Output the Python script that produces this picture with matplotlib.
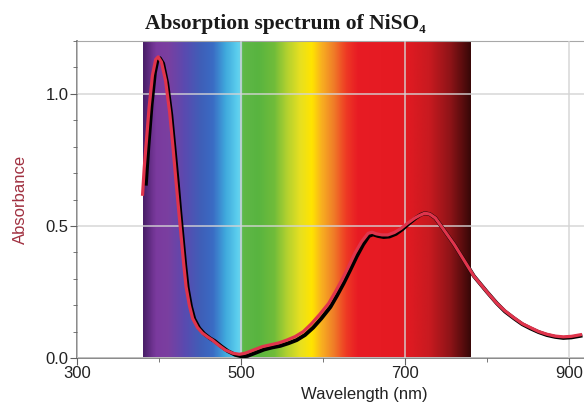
import numpy as np
import matplotlib
matplotlib.use("Agg")
import matplotlib.pyplot as plt
from matplotlib.colors import LinearSegmentedColormap, to_rgb
from matplotlib.ticker import FixedLocator, MultipleLocator, FormatStrFormatter

# Red trace
red_nm = [380, 382, 388, 392, 396, 399, 403, 408, 413, 417, 421, 424, 427, 430, 433,
          437, 441, 447, 453, 460, 465, 473, 481, 490, 498, 505, 515, 526, 536, 546,
          556, 566, 576, 586, 596, 607, 615, 623, 631, 639, 647, 655, 660, 665, 672,
          679, 687, 695, 703, 712, 718, 724, 730, 737, 744, 752, 760, 768, 776, 784,
          792, 800, 812, 822, 833, 843, 853, 863, 873, 883, 893, 903, 914]
red_abs = [0.62, 0.72, 0.95, 1.07, 1.13, 1.14, 1.12, 1.05, 0.93, 0.80, 0.66, 0.56, 0.46, 0.36, 0.27,
           0.20, 0.15, 0.115, 0.094, 0.078, 0.068, 0.048, 0.03, 0.018, 0.014, 0.018, 0.03, 0.043, 0.05, 0.057,
           0.068, 0.081, 0.10, 0.13, 0.165, 0.207, 0.25, 0.295, 0.345, 0.397, 0.44, 0.472, 0.476, 0.47, 0.466,
           0.466, 0.475, 0.49, 0.51, 0.53, 0.54, 0.548, 0.545, 0.53, 0.50, 0.465, 0.43, 0.39, 0.35, 0.31,
           0.28, 0.25, 0.207, 0.178, 0.152, 0.13, 0.115, 0.10, 0.09, 0.083, 0.08, 0.082, 0.088]

# Black trace
black_nm = [384, 387, 391, 395, 398, 401, 405, 410, 415, 419, 423, 426, 429, 432, 435,
            439, 443, 449, 455, 462, 468, 476, 484, 493, 501, 508, 518, 528, 538, 548,
            558, 568, 578, 588, 598, 609, 617, 625, 633, 641, 649, 656, 661, 667, 674,
            681, 689, 697, 705, 713, 719, 724, 730, 737, 744, 752, 760, 768, 776, 784,
            792, 800, 812, 822, 833, 843, 853, 863, 873, 883, 893, 903, 914]
black_abs = [0.66, 0.80, 0.96, 1.08, 1.125, 1.135, 1.115, 1.04, 0.92, 0.79, 0.66, 0.55, 0.45, 0.35, 0.265,
             0.195, 0.148, 0.113, 0.092, 0.075, 0.064, 0.044, 0.026, 0.012, 0.006, 0.008, 0.02, 0.032, 0.04, 0.046,
             0.056, 0.068, 0.087, 0.115, 0.15, 0.193, 0.236, 0.282, 0.332, 0.384, 0.43, 0.462, 0.468, 0.462, 0.458,
             0.46, 0.47, 0.488, 0.51, 0.53, 0.542, 0.548, 0.545, 0.53, 0.50, 0.465, 0.43, 0.39, 0.35, 0.31,
             0.28, 0.25, 0.207, 0.176, 0.15, 0.128, 0.112, 0.098, 0.087, 0.08, 0.076, 0.078, 0.084]

x_major = [300, 500, 700, 900]
x_minor = [400, 600, 800]

# visible spectrum band colour stops
band_nm = [380, 395, 410, 430, 450, 465, 480, 495, 499, 501, 520, 540, 555, 572, 586,
           598, 612, 628, 642, 700, 730, 755, 780]
band_col = ['#4a1f6a', '#7b3a9e', '#7a3fa0', '#5a4ab0', '#3f5fb8', '#3a6cc4', '#3fa8dc',
            '#5ccfee', '#70d0e8', '#60b848', '#58b440', '#70bc3a', '#b0d030', '#e8e020',
            '#ffe400', '#f8b020', '#f08028', '#ee3a24', '#e81c24', '#e41a22', '#c81a20',
            '#901418', '#3a0808']

fig = plt.figure(figsize=(5.84, 4.05), dpi=100)
ax = fig.add_axes([77 / 584, 47 / 405, (651 - 77) / 584, 317 / 405])

pos = [(n - band_nm[0]) / (band_nm[-1] - band_nm[0]) for n in band_nm]
cmap = LinearSegmentedColormap.from_list('vis', list(zip(pos, [to_rgb(c) for c in band_col])))
grad = np.linspace(0, 1, 800).reshape(1, -1)
ax.imshow(grad, cmap=cmap, aspect='auto', extent=[band_nm[0], band_nm[-1], 0, 1.2],
          zorder=0, interpolation='bilinear')

ax.set_xlim(300, 1000)
ax.set_ylim(0, 1.2)
ax.xaxis.set_major_locator(FixedLocator(x_major))
ax.xaxis.set_minor_locator(FixedLocator(x_minor))
ax.yaxis.set_major_locator(MultipleLocator(0.5))
ax.yaxis.set_minor_locator(MultipleLocator(0.1))
ax.yaxis.set_major_formatter(FormatStrFormatter('%.1f'))
ax.grid(True, which='major', color='#d4d4d4', alpha=0.85, linewidth=1.2, zorder=1)
ax.set_axisbelow(False)

ax.plot(black_nm, black_abs, color='black', linewidth=2.8, zorder=3)
ax.plot(red_nm, red_abs, color='#e0344c', linewidth=2.3, zorder=4)

for s in ['left', 'bottom']:
    ax.spines[s].set_color('#808080')
    ax.spines[s].set_linewidth(1.3)
ax.spines['top'].set_color('#a8a8a8')
ax.spines['right'].set_visible(False)
ax.tick_params(which='both', direction='out', color='#606060', labelsize=12, pad=1)
ax.tick_params(which='major', length=5)
ax.tick_params(which='minor', length=3)
for lab in ax.get_xticklabels() + ax.get_yticklabels():
    lab.set_fontfamily('Liberation Sans')
    lab.set_color('#222222')

ax.set_ylabel('Absorbance', color='#a03040', fontsize=12, family='Liberation Sans', labelpad=13)
ax.set_xlabel('Wavelength (nm)', fontsize=12, family='Liberation Sans', color='#222222', labelpad=4)

fig.text(285 / 584, 1 - 29 / 405, 'Absorption spectrum of NiSO₄', ha='center', va='baseline',
         fontsize=15.5, fontweight='bold', family=['Liberation Serif', 'DejaVu Serif'], color='#1a1a1a')

fig.savefig('out.png', dpi=100)
